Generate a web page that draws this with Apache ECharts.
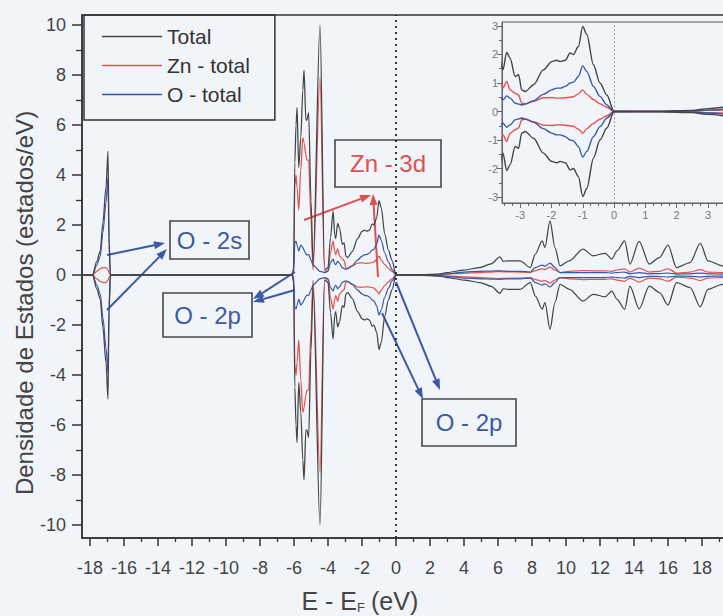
<!DOCTYPE html>
<html><head><meta charset="utf-8">
<script src="https://cdn.jsdelivr.net/npm/echarts@6/dist/echarts.min.js"></script>
<style>html,body{margin:0;padding:0;background:#f1f5fa}#c{width:723px;height:616px}</style>
</head><body><div id="c"></div>
<script>
// Energy grid (eV, E - E_F) and spin-up DOS values (states/eV); spin-down is the mirror image
const energy = [
 -18.47, -17.85, -17.6, -17.4, -17.24, -17.06, -16.94, -16.88, -16.8,
 -6.1, -6.02, -5.95, -5.88, -5.82, -5.72, -5.6, -5.48, -5.41, -5.3, -5.24, -5.14, -5.0, -4.88,
 -4.47, -4.2, -4.0, -3.85, -3.7, -3.6,
 -3.55, -3.43, -3.32, -3.16, -3.05, -2.95, -2.84, -2.57, -2.26, -1.99, -1.83, -1.72, -1.56, -1.40, -1.30, -1.14, -1.0, -0.87, -0.66, -0.45, -0.23, 0,
 1.5, 2.5, 3.0, 4.0, 4.94, 5.6, 6.12, 6.3, 6.6, 7.3, 7.9, 8.2, 8.6, 8.76, 9.06, 9.35, 9.65,
 10.2, 11.0, 11.6, 12.3, 12.7, 13.0, 13.45, 13.76, 14.3, 14.9, 15.5, 16.0, 16.5, 17.3, 17.9, 18.35, 19.2, 20
];
const totalDOS = [
 0, 0, 0.55, 0.95, 2.1, 3.5, 4.95, 1.5, 0,
 0, 0.3, 4.5, 6.0, 6.7, 4.3, 5.5, 7.4, 8.2, 6.2, 6.2, 6.5, 3.0, 0.45,
 10.0, 0.2, 0.3, 1.5, 2.56, 1.6,
 1.46, 2.07, 1.87, 1.23, 1.29, 0.76, 0.7, 0.94, 1.46, 1.75, 1.8, 1.75, 1.8, 2.05, 2.0, 2.28, 2.98, 2.7, 1.64, 1.0, 0.58, 0,
 0.01, 0.04, 0.1, 0.2, 0.3, 0.45, 0.73, 0.55, 0.57, 0.57, 0.3, 0.84, 1.37, 1.1, 2.17, 1.1, 0.37,
 0.57, 1.04, 0.77, 0.87, 0.64, 0.97, 1.37, 0.44, 1.35, 0.44, 0.7, 1.2, 0.3, 0.5, 1.27, 0.57, 0.37, 0.5
];
const znDOS = [
 0, 0, 0.15, 0.25, 0.3, 0.3, 0.2, 0.1, 0,
 0, 0.2, 3.6, 4.0, 3.5, 2.6, 4.2, 5.5, 5.3, 4.8, 4.6, 4.6, 2.2, 0.2,
 7.9, 0.1, 0.2, 0.9, 1.36, 0.95,
 0.82, 1.05, 0.76, 0.64, 0.58, 0.29, 0.27, 0.36, 0.48, 0.49, 0.47, 0.47, 0.48, 0.5, 0.52, 0.62, 0.76, 0.6, 0.42, 0.27, 0.15, 0,
 0.005, 0.02, 0.04, 0.07, 0.1, 0.12, 0.14, 0.13, 0.13, 0.12, 0.1, 0.18, 0.25, 0.22, 0.32, 0.2, 0.1,
 0.15, 0.18, 0.17, 0.17, 0.15, 0.2, 0.25, 0.12, 0.28, 0.12, 0.15, 0.25, 0.08, 0.12, 0.22, 0.12, 0.1, 0.1
];
const oDOS = [
 0, 0, 0.4, 0.75, 1.7, 2.9, 3.9, 1.2, 0,
 0, 0.1, 1.3, 1.36, 1.2, 0.96, 1.2, 1.1, 1.0, 0.85, 0.8, 0.82, 0.6, 0.4,
 0.15, 0.1, 0.15, 0.5, 0.64, 0.45,
 0.41, 0.55, 0.47, 0.29, 0.26, 0.23, 0.26, 0.38, 0.6, 0.76, 0.82, 0.82, 0.88, 1.0, 1.03, 1.23, 1.6, 1.4, 0.88, 0.53, 0.23, 0,
 0.005, 0.02, 0.05, 0.12, 0.15, 0.16, 0.17, 0.16, 0.15, 0.15, 0.12, 0.3, 0.4, 0.35, 0.48, 0.3, 0.1,
 0.1, 0.1, 0.1, 0.1, 0.08, 0.1, 0.12, 0.05, 0.1, 0.05, 0.06, 0.08, 0.04, 0.05, 0.08, 0.05, 0.04, 0.05
];
const seriesNames = ['Total', 'Zn - total', 'O - total'];
const xTickLabels = [-18,-16,-14,-12,-10,-8,-6,-4,-2,0,2,4,6,8,10,12,14,16,18];
const xMinorTicks = [-17,-15,-13,-11,-9,-7,-5,-3,-1,1,3,5,7,9,11,13,15,17,19];
const yTickLabels = [-10,-8,-6,-4,-2,0,2,4,6,8,10];
const yMinorTicks = [-9,-7,-5,-3,-1,1,3,5,7,9];
const insetXTicks = [-3,-2,-1,0,1,2,3];
const insetXMinor = [-3.5,-3.25,-2.75,-2.5,-2.25,-1.75,-1.5,-1.25,-0.75,-0.5,-0.25,0.25,0.5,0.75,1.25,1.5,1.75,2.25,2.5,2.75,3.25,3.5,3.75];
const insetYTicks = [-3,-2,-1,0,1,2,3];
const insetYMinor = [-2.5,-1.5,-0.5,0.5,1.5,2.5];

const FONT = 'Liberation Sans, Arial, Helvetica, sans-serif';
const colors = {'Total':'#444444','Zn - total':'#e4524f','O - total':'#3b58a7'};
const valsOf = {'Total':totalDOS,'Zn - total':znDOS,'O - total':oDOS};

function axis(gi, min, max, ticks, minor, isX, main) {
  const col = main ? '#333' : '#666';
  const base = {
    type:'value', gridIndex:gi, min:min, max:max, scale:true,
    splitLine:{show:false}
  };
  base.position = isX ? 'bottom' : 'left';
  const a = Object.assign({}, base, {
    axisLine:{show:true, onZero:false, lineStyle:{color:col, width: main?1.5:1}},
    axisTick:{show:true, inside:false, customValues:ticks, length: main ? (isX?8:10) : 5, lineStyle:{color:col, width: main?1.5:1}},
    axisLabel:{show:true, customValues:ticks, fontSize: main?18:11, color: main?'#444':'#777', fontFamily:FONT,
               margin: main ? (isX?21:16) : (isX?6:4)}
  });
  const b = Object.assign({}, base, {
    axisLine:{show:false, onZero:false},
    axisTick:{show:true, inside:false, customValues:minor, length: main ? (isX?4:6) : 3, lineStyle:{color:col, width: main?1.3:1}},
    axisLabel:{show:false}
  });
  return [a, b];
}

const xAxes = [].concat(
  axis(0, -18.47, 20, xTickLabels, xMinorTicks, true, true),
  axis(1, -3.58, 3.8, insetXTicks, insetXMinor, true, false)
);
const yAxes = [].concat(
  axis(0, -10.52, 10.4, yTickLabels, yMinorTicks, false, true),
  axis(1, -3.21, 3.14, insetYTicks, insetYMinor, false, false)
);

const series = [];
['Zn - total','O - total','Total'].forEach(function(name){
  const v = valsOf[name];
  [[0,0],[2,2]].forEach(function(ax, k){
    [1,-1].forEach(function(sign){
      const s = {
        name:name, type:'line', xAxisIndex:ax[0], yAxisIndex:ax[1],
        symbol:'none', showSymbol:false, clip:true, animation:false,
        smooth:0.3, smoothMonotone:'x',
        lineStyle:{color:colors[name], width: k===0 ? 1.25 : 1.4},
        itemStyle:{color:colors[name]},
        data: energy.map(function(e,i){ return [e, sign*v[i]]; })
      };
      if (name==='Total' && sign===1) {
        s.markLine = {
          silent:true, symbol:'none', label:{show:false}, animation:false,
          lineStyle: k===0 ? {type:[2,4], color:'#222', width:1.8} : {type:[1.5,2.5], color:'#888', width:1},
          data:[{xAxis:0}]
        };
      }
      series.push(s);
    });
  });
});

function arrow(x1,y1,x2,y2,color){
  const a=Math.atan2(y2-y1,x2-x1), L=11, W=4;
  const bx=x2-L*Math.cos(a), by=y2-L*Math.sin(a);
  const px=-Math.sin(a)*W, py=Math.cos(a)*W;
  return [
    {type:'line', shape:{x1:x1,y1:y1,x2:bx,y2:by}, style:{stroke:color,lineWidth:2}},
    {type:'polygon', shape:{points:[[x2,y2],[bx+px,by+py],[bx-px,by-py]]}, style:{fill:color}}
  ];
}
function box(x,y,w,h,text,color){
  return [
    {type:'rect', shape:{x:x,y:y,width:w,height:h}, style:{fill:'none',stroke:'#474747',lineWidth:1.6}},
    {type:'text', x:x+w/2, y:y+h/2, style:{text:text, fill:color, fontSize:24, fontFamily:FONT, textAlign:'center', textVerticalAlign:'middle'}}
  ];
}
const BLUE='#3d58a6', RED='#e0504d';
const graphics = [].concat(
  box(170,221,79,38,'O - 2s',BLUE),
  box(163,293,89,44,'O - 2p',BLUE),
  box(335,140,106,47,'Zn - 3d',RED),
  box(422,399,94,47,'O - 2p',BLUE),
  arrow(107,255,165,243,BLUE),
  arrow(107,310,167,249,BLUE),
  arrow(295,272,253,299,BLUE),
  arrow(295,290,253,302,BLUE),
  arrow(304,220,371,195,RED),
  arrow(378,277,373,194,RED),
  arrow(382,313,423,399,BLUE),
  arrow(396,282,440,390,BLUE),
  [
    {type:'text', x:24, y:303, rotation:Math.PI/2, style:{text:'Densidade de Estados (estados/eV)', fill:'#444', fontSize:24, fontFamily:FONT, textAlign:'center', textVerticalAlign:'middle'}},
    {type:'text', x:357, y:601, style:{text:'E - E', fill:'#444', fontSize:25, fontFamily:FONT, textAlign:'right', textVerticalAlign:'middle'}},
    {type:'text', x:357, y:607, style:{text:'F', fill:'#444', fontSize:13, fontFamily:FONT, textAlign:'left', textVerticalAlign:'middle'}},
    {type:'text', x:371, y:601, style:{text:'(eV)', fill:'#444', fontSize:25, fontFamily:FONT, textAlign:'left', textVerticalAlign:'middle'}}
  ]
);

const chart = echarts.init(document.getElementById('c'), null, {renderer:'svg', width:723, height:616});
chart.setOption({
  backgroundColor:'#f1f5fa',
  animation:false,
  grid:[
    {left:82, top:15, width:654, height:523, show:true, borderColor:'#333', borderWidth:1.5, backgroundColor:'transparent', containLabel:false, outerBoundsMode:'none'},
    {left:502, top:22, width:231, height:181, show:true, borderColor:'#555', borderWidth:1, backgroundColor:'transparent', containLabel:false, outerBoundsMode:'none'}
  ],
  xAxis:xAxes,
  yAxis:yAxes,
  legend:{
    data:seriesNames, orient:'vertical', left:84, top:15,
    icon:'rect', itemWidth:60, itemHeight:1.6, itemGap:8, padding:[11,25,15,18],
    borderColor:'#333', borderWidth:1.5, selectedMode:false,
    textStyle:{fontSize:21, color:'#333', fontFamily:FONT, lineHeight:21}
  },
  series:series,
  graphic:{elements:graphics}
});
</script></body></html>
